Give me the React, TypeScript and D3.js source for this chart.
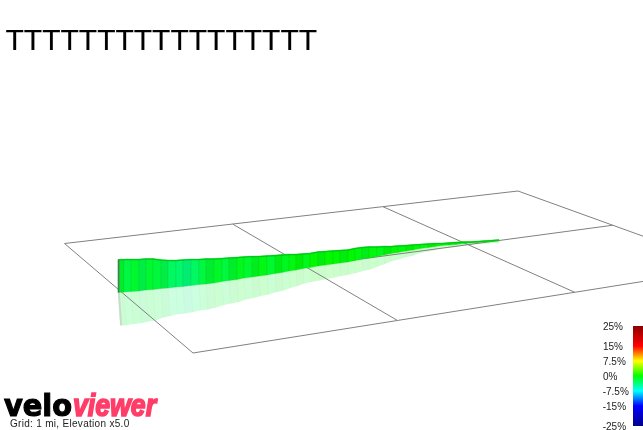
import React from "react";
import * as d3 from "d3";

const title = "TTTTTTTTTTTTTTTTT";
const gridNote = "Grid: 1 mi, Elevation x5.0";

const routeDistance = [0,60,130,210,280,350,430,500,580,650,730,810,880,960,1040,1110,1190,1260,1340,1410,1490,1570,1640,1710,1780,1850,1920,2000,2070,2150,2220,2300,2370,2440,2510,2590,2660,2730,2800,2880,2950,3020,3100,3170,3240,3310,3380,3460,3530,3600,3670,3740,3810];
const routeNorth = [0,5,10,15,25,30,40,45,55,60,70,80,85,95,110,120,130,145,155,165,175,190,200,215,225,240,250,265,275,285,295,305,320,335,345,360,375,390,400,415,425,440,450,460,470,475,480,490,495,500,505,510,515];
const routeElevation = [330,330,325,320,315,310,290,280,270,270,265,255,255,245,235,230,225,215,210,200,195,185,180,170,160,150,145,145,140,135,130,125,125,120,115,100,90,75,70,60,55,45,40,35,25,25,25,20,15,15,15,15,15];
const routeGradient = [-1.3,-2,-1.4,-2.2,-1.4,-1.8,-2.2,-2.9,-3.2,-3.6,-3,-2,-1.5,-1.2,-1.9,-1.3,-0.8,-1.4,-0.9,-0.6,-1.4,-0.6,-1,-0.5,-0.2,-0.8,0,-0.3,0.1,-0.1,-0.4,0,-0.4,-0.8,-0.3,-0.7,-0.3,-0.1,-0.4,-0.2,-0.1,-0.4,-0.1,-0.2,-0.1,-0.2,-0.1,-0.1,-0.1,-0.2,-0.1,-0.2];

const legendValues = [25, 15, 7.5, 0, -7.5, -15, -25];
const legendLabels = ["25%", "15%", "7.5%", "0%", "-7.5%", "-15%", "-25%"];
const legendColors = ["#8b0000", "#ff0000", "#ffff00", "#00ff00", "#00ffff", "#0000ff", "#00008b"];

const gridU = [0, 1, 2, 3];
const gridV = [0, 1, 2];

const color = d3.scaleLinear<string>().domain(legendValues).range(legendColors).interpolate(d3.interpolateRgb);

const xScale = d3.scaleLinear().domain([0, 3810]).range([118, 499]);
const northScale = d3.scaleLinear().domain([0, 515]).range([292.5, 241]);
const elevScale = d3.scaleLinear().domain([0, 330]).range([0, 33]);
const legendY = d3.scaleLinear().domain([-25, 25]).range([426, 326]);

// ground-plane perspective, from the four corners of the grid
const quad = [[64.5, 243.5], [518, 191], [730, 267.6], [193, 353]];
function makeProjection(q: number[][]) {
  const [[x0, y0], [x1, y1], [x2, y2], [x3, y3]] = q;
  const dx1 = x1 - x2, dx2 = x3 - x2, sx = x0 - x1 + x2 - x3;
  const dy1 = y1 - y2, dy2 = y3 - y2, sy = y0 - y1 + y2 - y3;
  const den = dx1 * dy2 - dx2 * dy1;
  const g = (sx * dy2 - dx2 * sy) / den;
  const h = (dx1 * sy - sx * dy1) / den;
  const a = x1 - x0 + g * x1, b = x3 - x0 + h * x3;
  const d = y1 - y0 + g * y1, e = y3 - y0 + h * y3;
  return (u: number, v: number): [number, number] => {
    const w = g * u + h * v + 1;
    return [(a * u + b * v + x0) / w, (d * u + e * v + y0) / w];
  };
}
const project = makeProjection(quad);
const uScale = d3.scaleLinear().domain([0, 3]).range([0, 1]);
const vScale = d3.scaleLinear().domain([0, 2]).range([0, 1]);
const gridPoint = (u: number, v: number) => project(uScale(u), vScale(v));
const lineGen = d3.line<[number, number]>();

const gridPaths = [
  ...gridU.map((u) => lineGen(gridV.map((v) => gridPoint(u, v)))!),
  ...gridV.map((v) => lineGen(gridU.map((u) => gridPoint(u, v)))!),
];

const pts = routeDistance.map((dist, i) => {
  const x = xScale(dist);
  const g = northScale(routeNorth[i]);
  const h = elevScale(routeElevation[i]);
  return { x, g, h, top: g - h, mirror: g + h };
});
const TILT = 0.07;
const segments = routeGradient.map((gr, i) => {
  const a = pts[i], b = pts[i + 1];
  return {
    fill: d3.rgb(color(gr)).darker(i % 3 === 0 ? 0.2 : 0.08).formatHex(),
    edge: d3.rgb(color(gr)).darker(0.6).formatHex(),
    wall: lineGen([[a.x, a.top], [b.x, b.top], [b.x, b.g], [a.x, a.g]])! + "Z",
    reflect: lineGen([[a.x, a.g], [b.x, b.g], [b.x + b.h * TILT, b.mirror], [a.x + a.h * TILT, a.mirror]])! + "Z",
  };
});
const topLine = d3.line<(typeof pts)[number]>().x((p) => p.x).y((p) => p.top + 0.6)(pts)!;
const first = pts[0];

const sans = "'Liberation Sans', Arial, sans-serif";

export default function App() {
  return (
    <svg width={643} height={430} style={{ position: "absolute", left: 0, top: 0, willChange: "transform" }} fontFamily={sans}>
      <defs>
        <linearGradient id="legendRamp" x1="0" y1="0" x2="0" y2="1">
          {legendValues.map((v, i) => (
            <stop key={i} offset={(legendY(v) - 326) / 100} stopColor={legendColors[i]} />
          ))}
        </linearGradient>
      </defs>
      <text x={5.5} y={50} fontSize={30} fill="#000" stroke="#000" strokeWidth={0.15}>{title}</text>

      {segments.map((s, i) => (
        <path key={i} d={s.reflect} fill={s.fill} fillOpacity={0.2} stroke={s.edge} strokeOpacity={0.05} strokeWidth={0.6} />
      ))}
      <path d={lineGen([[first.x + 0.8, first.g], [first.x + 0.8 + first.h * TILT, first.mirror]])!} stroke="#bbb" strokeOpacity={0.45} strokeWidth={2} fill="none" />

      {gridPaths.map((d, i) => (
        <path key={i} d={d} fill="none" stroke="#808080" strokeWidth={1} />
      ))}

      {segments.map((s, i) => (
        <path key={i} d={s.wall} fill={s.fill} stroke={s.edge} strokeOpacity={0.6} strokeWidth={0.5} />
      ))}
      <path d={topLine} fill="none" stroke="#00c818" strokeWidth={1.4} />
      <path d={lineGen([[first.x + 0.6, first.top], [first.x + 0.6, first.g]])!} stroke="#4c7a58" strokeWidth={1.6} fill="none" />

      <text x={4} y={416} fontSize={31} fontWeight={700} fontFamily="'DejaVu Sans', sans-serif" fill="#000" stroke="#000" strokeWidth={1.2} textLength={68} lengthAdjust="spacingAndGlyphs">velo</text>
      <text x={73} y={416} fontSize={32} fontWeight={700} fontStyle="italic" fill="#ff3d68" stroke="#ff3d68" strokeWidth={1.7} textLength={83} lengthAdjust="spacingAndGlyphs">viewer</text>
      <text x={10} y={427} fontSize={10} fill="#222" letterSpacing={0.3}>{gridNote}</text>
      {legendValues.map((v, i) => (
        <text key={i} x={v < 0 ? 602.7 : 603} y={legendY(v) + 4} fontSize={10} fill="#222">{legendLabels[i]}</text>
      ))}

      <rect x={633} y={326} width={10} height={100} fill="url(#legendRamp)" />
    </svg>
  );
}
